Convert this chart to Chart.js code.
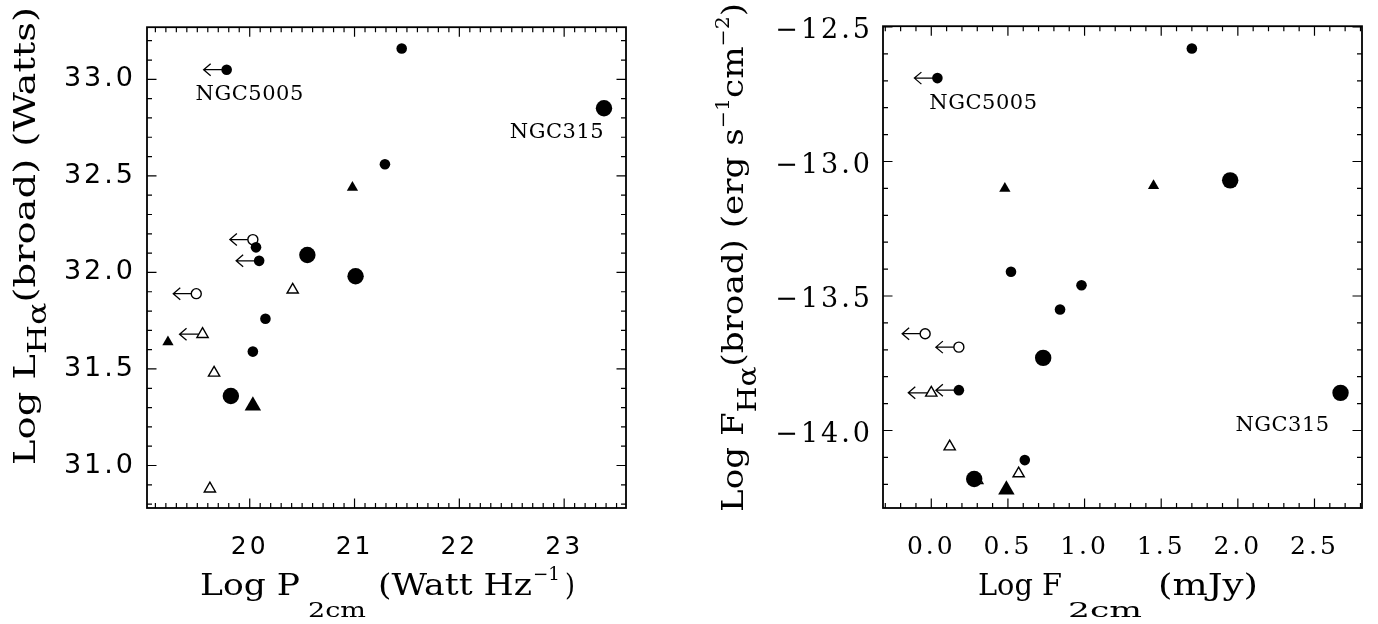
<!DOCTYPE html>
<html>
<head>
<meta charset="utf-8">
<script src="https://cdn.jsdelivr.net/npm/chart.js@4.4.1/dist/chart.umd.min.js"></script>
<style>
  html, body { margin: 0; padding: 0; background: #fff; }
  #wrap { position: relative; width: 1378px; height: 624px; }
  canvas { position: absolute; top: 0; }
</style>
</head>
<body>
<div id="wrap">
  <canvas id="lumChart" width="690" height="624" style="left:0"></canvas>
  <canvas id="fluxChart" width="688" height="624" style="left:690px"></canvas>
</div>
<script>
// left panel: log P(2cm) against log L(H-alpha broad)
const powerX = [21.45, 19.78, 23.38, 21.29, 20.98, 20.03, 20.06, 20.55, 20.09, 21.01,
                20.41, 19.49, 20.15, 19.55, 19.22, 20.03, 19.66, 19.82, 20.03, 19.62];
const lumY = [33.16, 33.05, 32.85, 32.56, 32.44, 32.17, 32.13, 32.09, 32.06, 31.98,
              31.91, 31.89, 31.76, 31.68, 31.64, 31.59, 31.48, 31.36, 31.31, 30.88];
const lumKind = ['sc', 'sc', 'bc', 'sc', 'st', 'oc', 'sc', 'bc', 'sc', 'bc',
                 'ot', 'oc', 'sc', 'ot', 'st', 'sc', 'ot', 'bc', 'bt', 'ot'];
const lumLimit = [0, 1, 0, 0, 0, 1, 0, 0, 1, 0, 0, 1, 0, 1, 0, 0, 0, 0, 0, 0];
const lumNames = { 1: 'NGC5005', 2: 'NGC315' };

// right panel: log F(2cm) against log F(H-alpha broad)
const fluxX = [1.70, 0.04, 0.48, 1.45, 1.95, 0.52, 0.98, 0.84, -0.04, 0.18,
               0.73, 0.00, 0.18, 2.67, 0.12, 0.61, 0.57, 0.30, 0.28, 0.49];
const fluxY = [-12.58, -12.69, -13.10, -13.09, -13.07, -13.41, -13.46, -13.55, -13.64, -13.69,
               -13.73, -13.86, -13.85, -13.86, -14.06, -14.11, -14.16, -14.185, -14.18, -14.22];
const fluxKind = ['sc', 'sc', 'st', 'st', 'bc', 'sc', 'sc', 'sc', 'oc', 'oc',
                  'bc', 'ot', 'sc', 'bc', 'ot', 'sc', 'ot', 'ot', 'bc', 'bt'];
const fluxLimit = [0, 1, 0, 0, 0, 0, 0, 0, 1, 1, 0, 1, 1, 0, 0, 0, 0, 0, 0, 0];
const fluxNames = { 1: 'NGC5005', 13: 'NGC315' };

const powerTicks = [20, 21, 22, 23];
const lumTicks = [31.0, 31.5, 32.0, 32.5, 33.0];
const fluxXTicks = [0.0, 0.5, 1.0, 1.5, 2.0, 2.5];
const fluxYTicks = [-14.0, -13.5, -13.0, -12.5];

// symbol kinds: small/big filled circle, small/big filled triangle, open circle, open triangle
const MARKERS = {
  sc: { pointStyle: 'circle', radius: 5.3, open: false, order: 2 },
  bc: { pointStyle: 'circle', radius: 8.2, open: false, order: 1 },
  st: { pointStyle: 'triangle', radius: 6.5, open: false, order: 3 },
  bt: { pointStyle: 'triangle', radius: 9.5, open: false, order: 3 },
  oc: { pointStyle: 'circle', radius: 5, open: true, order: 4 },
  ot: { pointStyle: 'triangle', radius: 6.5, open: true, order: 5 }
};

const SERIF = '"DejaVu Serif", serif';
const SANS = '"DejaVu Sans", sans-serif';

function buildDatasets(xs, ys, kinds, limits, names) {
  return Object.keys(MARKERS).map(kind => {
    const m = MARKERS[kind];
    const data = [];
    xs.forEach((x, i) => {
      if (kinds[i] === kind) data.push({ x: x, y: ys[i], limit: !!limits[i], name: names[i] || '' });
    });
    return {
      label: kind,
      data: data,
      kind: kind,
      order: m.order,
      pointStyle: m.pointStyle,
      pointRadius: m.radius,
      pointHoverRadius: m.radius,
      pointBorderWidth: m.open ? 1.4 : 0,
      pointBorderColor: '#000',
      pointBackgroundColor: m.open ? 'rgba(0,0,0,0)' : '#000',
      showLine: false
    };
  });
}

// ticks are spaced out a little like the old plotting fonts
const spacingPlugin = {
  id: 'spacing',
  beforeDraw(chart) { chart.ctx.letterSpacing = '3px'; }
};

// upper-limit arrows pointing to lower x
const arrowPlugin = {
  id: 'limitArrows',
  beforeDatasetsDraw(chart) {
    const ctx = chart.ctx;
    ctx.save();
    ctx.strokeStyle = '#000';
    ctx.lineWidth = 1.3;
    chart.data.datasets.forEach((ds, di) => {
      const m = MARKERS[ds.kind];
      const meta = chart.getDatasetMeta(di);
      ds.data.forEach((p, j) => {
        if (!p.limit) return;
        const el = meta.data[j];
        let start = 0;
        if (m.open) start = m.pointStyle === 'circle' ? m.radius : m.radius * 0.58;
        const tip = el.x - 23;
        ctx.beginPath();
        ctx.moveTo(el.x - start, el.y);
        ctx.lineTo(tip, el.y);
        ctx.moveTo(tip + 7, el.y - 6);
        ctx.lineTo(tip, el.y);
        ctx.lineTo(tip + 7, el.y + 6);
        ctx.stroke();
      });
    });
    ctx.restore();
  }
};

const namePlugin = {
  id: 'names',
  afterDatasetsDraw(chart, args, opts) {
    const ctx = chart.ctx;
    ctx.save();
    ctx.letterSpacing = '0.5px';
    ctx.font = '21px ' + SERIF;
    ctx.fillStyle = '#000';
    ctx.textAlign = 'center';
    ctx.textBaseline = 'alphabetic';
    chart.data.datasets.forEach((ds, di) => {
      const meta = chart.getDatasetMeta(di);
      ds.data.forEach((p, j) => {
        if (!p.name) return;
        const off = opts.offsets[p.name];
        const el = meta.data[j];
        ctx.fillText(p.name, el.x + off[0], el.y + off[1] + 7.5);
      });
    });
    ctx.restore();
  }
};

// box with inward major/minor ticks on all four sides
const framePlugin = {
  id: 'frame',
  afterDraw(chart, args, opts) {
    const { ctx, chartArea: a } = chart;
    const xs = chart.scales.x, ys = chart.scales.y;
    ctx.save();
    ctx.letterSpacing = '0px';
    ctx.strokeStyle = '#000';
    ctx.lineWidth = 1.2;
    ctx.beginPath();
    const kx0 = Math.ceil(xs.min / opts.xMinor - 1e-6), kx1 = Math.floor(xs.max / opts.xMinor + 1e-6);
    for (let k = kx0; k <= kx1; k++) {
      const px = xs.getPixelForValue(k * opts.xMinor);
      const len = k % opts.xEvery === 0 ? 9.5 : 5;
      ctx.moveTo(px, a.bottom); ctx.lineTo(px, a.bottom - len);
      ctx.moveTo(px, a.top); ctx.lineTo(px, a.top + len);
    }
    const ky0 = Math.ceil(ys.min / opts.yMinor - 1e-6), ky1 = Math.floor(ys.max / opts.yMinor + 1e-6);
    for (let k = ky0; k <= ky1; k++) {
      const py = ys.getPixelForValue(k * opts.yMinor);
      const len = k % opts.yEvery === 0 ? 9.5 : 5;
      ctx.moveTo(a.left, py); ctx.lineTo(a.left + len, py);
      ctx.moveTo(a.right, py); ctx.lineTo(a.right - len, py);
    }
    ctx.stroke();
    ctx.lineWidth = 1.8;
    ctx.strokeRect(a.left, a.top, a.right - a.left, a.bottom - a.top);
    ctx.restore();
  }
};

// axis titles with sub/superscripts; a part with `at`/`w` is placed and
// stretched on its own, otherwise the whole title is stretched to `span`
function drawRich(ctx, t) {
  ctx.save();
  ctx.letterSpacing = '0px';
  ctx.fillStyle = '#000';
  ctx.textAlign = 'left';
  ctx.textBaseline = 'alphabetic';
  const widths = t.parts.map(p => {
    ctx.font = p.size + 'px ' + SERIF;
    return ctx.measureText(p.text).width;
  });
  const total = widths.reduce((s, w) => s + w, 0);
  const k = t.span ? t.span / total : 1;
  ctx.translate(t.x, t.y);
  if (t.vertical) ctx.rotate(-Math.PI / 2);
  let cx = 0;
  t.parts.forEach((p, i) => {
    ctx.font = p.size + 'px ' + SERIF;
    ctx.save();
    if (p.at !== undefined) {
      ctx.translate(p.at, p.dy || 0);
      ctx.scale(p.w / widths[i], 1);
    } else {
      ctx.translate(cx * k, p.dy || 0);
      ctx.scale(k, 1);
    }
    ctx.fillText(p.text, 0, 0);
    ctx.restore();
    cx += widths[i];
  });
  ctx.restore();
}

// titles are kept in a closure, out of Chart.js option resolution
function titlePlugin(items) {
  return {
    id: 'axisTitles',
    afterDraw(chart) { items.forEach(t => drawRich(chart.ctx, t)); }
  };
}

function makeChart(id, cfg) {
  return new Chart(document.getElementById(id), {
    type: 'scatter',
    data: { datasets: cfg.datasets },
    plugins: [spacingPlugin, arrowPlugin, namePlugin, framePlugin, titlePlugin(cfg.titles)],
    options: {
      responsive: false,
      animation: false,
      devicePixelRatio: 1,
      clip: false,
      layout: { padding: cfg.padding },
      scales: {
        x: {
          type: 'linear',
          min: cfg.xRange[0],
          max: cfg.xRange[1],
          afterBuildTicks: s => { s.ticks = cfg.xTicks.map(v => ({ value: v })); },
          afterFit: s => { s.height = 116; },
          grid: { display: false, drawTicks: false },
          border: { display: false },
          ticks: {
            autoSkip: false, maxRotation: 0,
            padding: 24,
            color: '#000',
            font: cfg.xFont,
            callback: cfg.xFormat
          }
        },
        y: {
          type: 'linear',
          min: cfg.yRange[0],
          max: cfg.yRange[1],
          afterBuildTicks: s => { s.ticks = cfg.yTicks.map(v => ({ value: v })); },
          afterFit: s => { s.width = cfg.yWidth; },
          grid: { display: false, drawTicks: false },
          border: { display: false },
          ticks: {
            autoSkip: false,
            padding: cfg.yPad,
            labelOffset: cfg.yLabelOffset,
            color: '#000',
            font: cfg.yFont,
            callback: cfg.yFormat
          }
        }
      },
      plugins: {
        legend: { display: false },
        tooltip: { enabled: false },
        names: { offsets: cfg.nameOffsets },
        frame: cfg.frame
      }
    }
  });
}

makeChart('lumChart', {
  datasets: buildDatasets(powerX, lumY, lumKind, lumLimit, lumNames),
  padding: { left: 0, top: 18, right: 64, bottom: 0 },
  yWidth: 147,
  yPad: 11,
  yLabelOffset: 0,
  xRange: [19.02, 23.59],
  yRange: [30.78, 33.27],
  xTicks: powerTicks,
  yTicks: lumTicks,
  xFont: { family: SANS, size: 25 },
  yFont: { family: SANS, size: 27 },
  xFormat: v => String(v),
  yFormat: v => v.toFixed(1),
  nameOffsets: { NGC5005: [23, 23], NGC315: [-47, 22] },
  frame: { xMinor: 0.1, xEvery: 10, yMinor: 0.1, yEvery: 5 },
  titles: [
    { x: 200, y: 595, parts: [
      { text: 'Log P', size: 30, at: 0, w: 100 },
      { text: '2cm', size: 21, dy: 22, at: 108, w: 58 },
      { text: '(Watt Hz', size: 30, at: 178, w: 154 },
      { text: '\u22121', size: 18, dy: -15, at: 333, w: 27 },
      { text: ')', size: 30, at: 365, w: 10 }
    ] },
    { x: 35, y: 465, span: 458, vertical: true, parts: [
      { text: 'Log L', size: 30 },
      { text: 'H\u03b1', size: 26, dy: 11 },
      { text: '(broad) (Watts)', size: 30 }
    ] }
  ]
});

makeChart('fluxChart', {
  datasets: buildDatasets(fluxX, fluxY, fluxKind, fluxLimit, fluxNames),
  padding: { left: 0, top: 19, right: 16, bottom: 0 },
  yWidth: 193,
  yPad: 10,
  yLabelOffset: 4,
  xRange: [-0.315, 2.81],
  yRange: [-14.288, -12.497],
  xTicks: fluxXTicks,
  yTicks: fluxYTicks,
  xFont: { family: SERIF, size: 25 },
  yFont: { family: SERIF, size: 27 },
  xFormat: v => v.toFixed(1),
  yFormat: v => (v < 0 ? '\u2212' : '') + Math.abs(v).toFixed(1),
  nameOffsets: { NGC5005: [46, 23], NGC315: [-58, 31] },
  frame: { xMinor: 0.1, xEvery: 5, yMinor: 0.1, yEvery: 5 },
  titles: [
    { x: 288, y: 595, parts: [
      { text: 'Log F', size: 30, at: 0, w: 84 },
      { text: '2cm', size: 21, dy: 22, at: 90, w: 74 },
      { text: '(mJy)', size: 30, at: 180, w: 100 }
    ] },
    { x: 53, y: 512, span: 509, vertical: true, parts: [
      { text: 'Log F', size: 30 },
      { text: 'H\u03b1', size: 26, dy: 13 },
      { text: '(broad) (erg s', size: 30 },
      { text: '\u22121', size: 18, dy: -14 },
      { text: 'cm', size: 30 },
      { text: '\u22122', size: 18, dy: -14 },
      { text: ')', size: 30 }
    ] }
  ]
});
</script>
</body>
</html>
